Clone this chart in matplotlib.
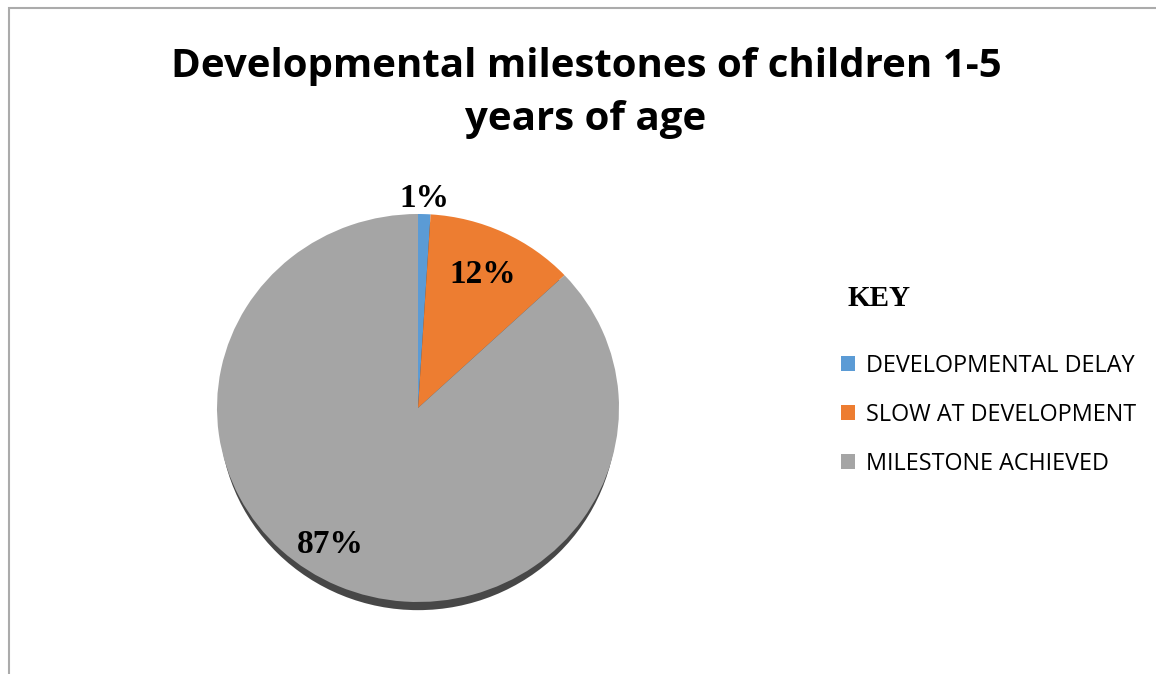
import matplotlib
matplotlib.use('Agg')
import matplotlib.pyplot as plt
import numpy as np
from matplotlib.patches import Ellipse, Rectangle

# Datos del gráfico
categories = ['DEVELOPMENTAL DELAY', 'SLOW AT DEVELOPMENT', 'MILESTONE ACHIEVED']
percentages = [1, 12, 87]
colors = ['#5B9BD5', '#ED7D31', '#A5A5A5']

# Ubicación de las etiquetas (distancia radial, desplazamiento angular)
label_radius = [1.08, 0.76, 0.83]
label_shift = [0, 0, -8.5]

W, H = 1156, 674
fig = plt.figure(figsize=(W / 100, H / 100), dpi=100)

# Marco gris
fig.add_artist(Rectangle((9 / W, -0.05), 1.2, 1.05 - 8 / H,
                         transform=fig.transFigure, fill=False,
                         edgecolor='#ABABAB', linewidth=1.5))

# Ejes del pastel: centro (418, 408) px, radios 201 x 194 px
cx, cy, rx, ry = 418, 408, 201, 194
ax = fig.add_axes([(cx - rx) / W, (H - cy - ry) / H, 2 * rx / W, 2 * ry / H])

# Sombra (solo asoma por la parte inferior)
ax.add_patch(Ellipse((0.0, -0.042), 1.975, 2.0, facecolor='#474747', edgecolor='none',
                     zorder=0, clip_on=False))

wedges, _ = ax.pie(percentages, colors=colors, startangle=90, counterclock=False,
                   radius=1.0, wedgeprops=dict(edgecolor='none'))
for w in wedges:
    w.set_zorder(1)

# Etiquetas de porcentaje
acum = 0
for i, p in enumerate(percentages):
    mid = 90 - (acum + p / 2) / 100 * 360 + label_shift[i]
    acum += p
    x = label_radius[i] * np.cos(np.radians(mid))
    y = label_radius[i] * np.sin(np.radians(mid))
    ax.text(x, y, f'{p}%', ha='center', va='center', fontsize=24,
            fontweight='bold', family='Liberation Serif', zorder=3)

ax.set_xlim(-1, 1)
ax.set_ylim(-1, 1)
ax.set_aspect('auto')
ax.axis('off')

# Título
fig.text(586 / W, 1 - 93 / H, 'Developmental milestones of children 1-5\nyears of age',
         ha='center', va='center', fontsize=29, fontweight='bold',
         family='Open Sans', linespacing=1.45)

# Leyenda
fig.text(848 / W, 1 - 298 / H, 'KEY', ha='left', va='center', fontsize=21,
         fontweight='bold', family='Liberation Serif')
leg = fig.legend(wedges, categories, loc='upper left',
                 bbox_to_anchor=(820 / W, 1 - 333 / H), frameon=False,
                 prop=dict(family='Open Sans', size=16.8),
                 handlelength=0.6, handleheight=0.6, handletextpad=0.45,
                 labelspacing=1.07)

fig.savefig('out.png', dpi=100)
